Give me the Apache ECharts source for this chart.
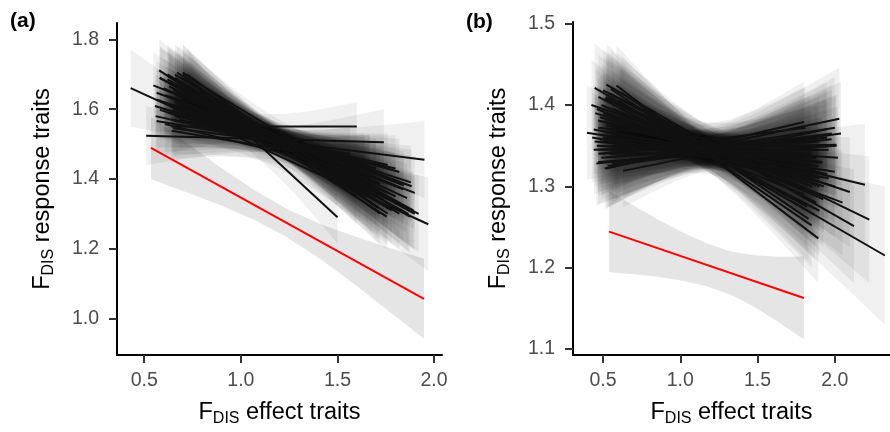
<!DOCTYPE html>
<html>
<head>
<meta charset="utf-8">
<script src="https://cdn.jsdelivr.net/npm/echarts@6/dist/echarts.min.js"></script>
<style>
  html, body { margin: 0; padding: 0; background: #fff; }
  #chart { width: 890px; height: 432px; }
</style>
</head>
<body>
<div id="chart"></div>
<script>
// each row: x start, y start, x end, y end, band half-width at start, at centre, at end
var linesA = [
  [0.43, 1.660, 1.97, 1.270, 0.110, 0.035, 0.135],
  [0.51, 1.524, 1.74, 1.505, 0.085, 0.035, 0.095],
  [0.64, 1.550, 1.60, 1.550, 0.075, 0.035, 0.070],
  [0.65, 1.545, 1.95, 1.455, 0.080, 0.035, 0.110],
  [0.70, 1.700, 1.50, 1.290, 0.085, 0.040, 0.075],
  [0.577, 1.711, 1.755, 1.292, 0.090, 0.035, 0.095],
  [0.70, 1.705, 1.711, 1.316, 0.080, 0.035, 0.090],
  [0.659, 1.699, 1.875, 1.292, 0.085, 0.035, 0.105],
  [0.581, 1.689, 1.867, 1.300, 0.090, 0.035, 0.105],
  [0.625, 1.694, 1.893, 1.310, 0.085, 0.035, 0.110],
  [0.547, 1.668, 1.844, 1.381, 0.095, 0.035, 0.100],
  [0.564, 1.647, 1.884, 1.379, 0.090, 0.035, 0.105],
  [0.564, 1.628, 1.720, 1.387, 0.090, 0.035, 0.090],
  [0.555, 1.609, 1.700, 1.420, 0.090, 0.035, 0.085],
  [0.581, 1.598, 1.651, 1.410, 0.085, 0.035, 0.080],
  [0.559, 1.580, 1.668, 1.441, 0.090, 0.035, 0.085],
  [0.564, 1.566, 1.565, 1.472, 0.090, 0.035, 0.075],
  [0.607, 1.557, 1.616, 1.420, 0.085, 0.035, 0.080],
  [0.642, 1.538, 1.668, 1.443, 0.080, 0.035, 0.085],
  [0.62, 1.700, 1.78, 1.310, 0.085, 0.035, 0.095],
  [0.66, 1.690, 1.82, 1.300, 0.080, 0.035, 0.100],
  [0.68, 1.680, 1.74, 1.340, 0.080, 0.035, 0.090],
  [0.63, 1.675, 1.80, 1.350, 0.085, 0.035, 0.095],
  [0.60, 1.660, 1.76, 1.360, 0.085, 0.035, 0.090],
  [0.65, 1.655, 1.86, 1.345, 0.080, 0.035, 0.100],
  [0.67, 1.650, 1.70, 1.370, 0.080, 0.035, 0.085],
  [0.61, 1.640, 1.84, 1.370, 0.085, 0.035, 0.100],
  [0.64, 1.635, 1.78, 1.385, 0.080, 0.035, 0.095],
  [0.66, 1.625, 1.72, 1.400, 0.080, 0.035, 0.090],
  [0.60, 1.620, 1.88, 1.390, 0.085, 0.035, 0.105],
  [0.63, 1.610, 1.74, 1.415, 0.085, 0.035, 0.090],
  [0.65, 1.600, 1.82, 1.420, 0.080, 0.035, 0.095],
  [0.62, 1.590, 1.70, 1.430, 0.085, 0.035, 0.085],
  [0.66, 1.580, 1.76, 1.440, 0.080, 0.035, 0.090],
  [0.68, 1.570, 1.64, 1.450, 0.080, 0.035, 0.080],
  [0.70, 1.690, 1.68, 1.330, 0.075, 0.035, 0.085],
  [0.72, 1.700, 1.72, 1.300, 0.075, 0.035, 0.090],
  [0.69, 1.670, 1.62, 1.360, 0.078, 0.035, 0.080],
  [0.71, 1.660, 1.66, 1.350, 0.075, 0.035, 0.085],
  [0.74, 1.680, 1.60, 1.350, 0.072, 0.035, 0.080],
  [0.62, 1.685, 1.90, 1.300, 0.085, 0.035, 0.105],
  [0.58, 1.690, 1.92, 1.300, 0.090, 0.035, 0.110],
  [0.66, 1.620, 1.90, 1.360, 0.080, 0.035, 0.105],
  [0.64, 1.570, 1.80, 1.430, 0.080, 0.035, 0.095],
  [0.60, 1.600, 1.64, 1.440, 0.085, 0.035, 0.080],
  [0.67, 1.705, 1.76, 1.300, 0.080, 0.035, 0.090],
  [0.63, 1.665, 1.70, 1.350, 0.085, 0.035, 0.085],
  [0.69, 1.645, 1.80, 1.380, 0.080, 0.035, 0.095],
  [0.61, 1.615, 1.66, 1.420, 0.085, 0.035, 0.080],
  [0.73, 1.690, 1.84, 1.320, 0.075, 0.035, 0.100]
];
var redA = [[0.535, 1.489, 1.948, 1.056, 0.090, 0.040, 0.115]];

var linesB = [
  [0.446, 1.421, 2.324, 1.215, 0.055, 0.022, 0.085],
  [0.522, 1.425, 2.124, 1.251, 0.050, 0.020, 0.070],
  [0.587, 1.424, 1.893, 1.236, 0.050, 0.020, 0.055],
  [0.500, 1.418, 2.223, 1.259, 0.050, 0.020, 0.078],
  [0.425, 1.400, 2.097, 1.293, 0.055, 0.020, 0.068],
  [0.511, 1.408, 1.925, 1.284, 0.050, 0.020, 0.058],
  [0.468, 1.381, 2.195, 1.302, 0.052, 0.020, 0.075],
  [0.396, 1.366, 2.000, 1.318, 0.058, 0.020, 0.062],
  [0.446, 1.355, 1.914, 1.329, 0.055, 0.020, 0.055],
  [0.468, 1.345, 2.011, 1.351, 0.052, 0.020, 0.062],
  [0.457, 1.328, 1.979, 1.358, 0.052, 0.020, 0.060],
  [0.511, 1.322, 2.029, 1.383, 0.050, 0.020, 0.063],
  [0.630, 1.319, 1.947, 1.370, 0.045, 0.020, 0.058],
  [0.522, 1.322, 1.800, 1.379, 0.050, 0.020, 0.050],
  [0.468, 1.330, 2.011, 1.350, 0.052, 0.020, 0.062],
  [0.550, 1.330, 1.950, 1.360, 0.048, 0.020, 0.058],
  [0.550, 1.420, 1.850, 1.252, 0.048, 0.020, 0.052],
  [0.470, 1.410, 1.900, 1.270, 0.052, 0.020, 0.055],
  [0.530, 1.415, 1.880, 1.280, 0.050, 0.020, 0.054],
  [0.490, 1.400, 1.860, 1.290, 0.051, 0.020, 0.053],
  [0.450, 1.390, 1.930, 1.300, 0.054, 0.020, 0.057],
  [0.560, 1.395, 1.850, 1.300, 0.048, 0.020, 0.052],
  [0.480, 1.385, 1.900, 1.310, 0.052, 0.020, 0.055],
  [0.520, 1.375, 1.950, 1.315, 0.050, 0.020, 0.058],
  [0.440, 1.370, 1.870, 1.320, 0.055, 0.020, 0.054],
  [0.500, 1.360, 1.920, 1.330, 0.051, 0.020, 0.056],
  [0.460, 1.350, 1.880, 1.335, 0.053, 0.020, 0.054],
  [0.540, 1.340, 1.960, 1.345, 0.049, 0.020, 0.058],
  [0.490, 1.335, 1.900, 1.355, 0.051, 0.020, 0.055],
  [0.470, 1.340, 1.840, 1.360, 0.052, 0.020, 0.052],
  [0.580, 1.330, 1.980, 1.365, 0.047, 0.020, 0.060],
  [0.520, 1.410, 1.820, 1.275, 0.050, 0.020, 0.051],
  [0.600, 1.405, 1.870, 1.265, 0.046, 0.020, 0.054],
  [0.460, 1.395, 2.050, 1.280, 0.053, 0.020, 0.065],
  [0.510, 1.380, 2.000, 1.300, 0.050, 0.020, 0.062],
  [0.430, 1.360, 1.960, 1.310, 0.055, 0.020, 0.058],
  [0.550, 1.365, 1.890, 1.325, 0.048, 0.020, 0.055],
  [0.480, 1.355, 2.020, 1.335, 0.052, 0.020, 0.063],
  [0.570, 1.350, 1.850, 1.340, 0.048, 0.020, 0.052],
  [0.440, 1.345, 1.940, 1.350, 0.055, 0.020, 0.057],
  [0.530, 1.325, 2.040, 1.365, 0.050, 0.020, 0.064],
  [0.620, 1.415, 1.830, 1.260, 0.046, 0.020, 0.052],
  [0.500, 1.390, 1.800, 1.290, 0.051, 0.020, 0.050],
  [0.490, 1.340, 1.810, 1.372, 0.051, 0.020, 0.050],
  [0.560, 1.328, 2.000, 1.372, 0.048, 0.020, 0.062],
  [0.610, 1.400, 1.900, 1.300, 0.046, 0.020, 0.055],
  [0.470, 1.372, 1.890, 1.345, 0.052, 0.020, 0.055]
];
var redB = [[0.540, 1.2444, 1.800, 1.1627, 0.050, 0.026, 0.051]];

var pivotA = 1.15, pivotB = 1.2;
var ticksXA = [0.5, 1.0, 1.5, 2.0], ticksYA = [1.0, 1.2, 1.4, 1.6, 1.8];
var ticksXB = [0.5, 1.0, 1.5, 2.0], ticksYB = [1.1, 1.2, 1.3, 1.4, 1.5];

var font = "'Liberation Sans', Arial, sans-serif";

// confidence band: straight fit line, half-width growing from the centre
// width towards the width stored at each end (regression CI shape)
function bandItem(pivot, fill) {
  return function (params, api) {
    var x0 = api.value(0), y0 = api.value(1), x1 = api.value(2), y1 = api.value(3);
    var w0 = api.value(4), wm = api.value(5), w1 = api.value(6);
    var xm = Math.min(Math.max(pivot, x0), x1);
    var steps = 8, top = [], bot = [];
    for (var i = 0; i <= steps; i++) {
      var x = x0 + (x1 - x0) * i / steps;
      var y = y0 + (y1 - y0) * (x - x0) / (x1 - x0);
      var end = x < xm ? w0 : w1;
      var span = x < xm ? (xm - x0) : (x1 - xm);
      var t = span > 0 ? Math.abs(x - xm) / span : 0;
      var w = Math.sqrt(wm * wm + (end * end - wm * wm) * t * t);
      top.push(api.coord([x, y + w]));
      bot.unshift(api.coord([x, y - w]));
    }
    return { type: 'polygon', shape: { points: top.concat(bot) }, style: { fill: fill } };
  };
}

function lineItem(color, width) {
  return function (params, api) {
    var a = api.coord([api.value(0), api.value(1)]);
    var b = api.coord([api.value(2), api.value(3)]);
    return { type: 'line', shape: { x1: a[0], y1: a[1], x2: b[0], y2: b[1] }, style: { stroke: color, lineWidth: width } };
  };
}

function series(idx, data, render) {
  return { type: 'custom', xAxisIndex: idx, yAxisIndex: idx, data: data, renderItem: render, encode: { x: [0, 2], y: [1, 3] }, clip: true, silent: true, animation: false };
}

var rich = {
  f: { fontSize: 23.5, fontFamily: font, color: '#000', lineHeight: 28 },
  s: { fontSize: 16, fontFamily: font, color: '#000', verticalAlign: 'bottom', lineHeight: 15 }
};

function xAxis(idx, min, max, ticks) {
  return {
    type: 'value', gridIndex: idx, min: min, max: max,
    name: '{f|F}{s|DIS}{f| effect traits}', nameLocation: 'middle', nameGap: 44,
    nameTextStyle: { rich: rich },
    axisLine: { lineStyle: { color: '#000', width: 2 } },
    axisTick: { length: 8, customValues: ticks, lineStyle: { color: '#333', width: 2 } },
    axisLabel: { customValues: ticks, margin: 16, color: '#4d4d4d', fontSize: 19.5, fontFamily: font, formatter: function (v) { return v.toFixed(1); } },
    splitLine: { show: false }
  };
}

function yAxis(idx, min, max, ticks) {
  return {
    type: 'value', gridIndex: idx, min: min, max: max,
    name: '{f|F}{s|DIS}{f| response traits}', nameLocation: 'middle', nameGap: 60,
    nameTextStyle: { rich: rich },
    axisLine: { onZero: false, lineStyle: { color: '#000', width: 2 } },
    axisTick: { length: 8, customValues: ticks, lineStyle: { color: '#333', width: 2 } },
    axisLabel: { customValues: ticks, margin: 18, color: '#4d4d4d', fontSize: 19.5, fontFamily: font, formatter: function (v) { return v.toFixed(1); } },
    splitLine: { show: false }
  };
}

var chart = echarts.init(document.getElementById('chart'));
chart.setOption({
  backgroundColor: '#fff',
  animation: false,
  grid: [
    { left: 117, top: 23, width: 325, height: 335 },
    { left: 573, top: 22, width: 317, height: 335 }
  ],
  xAxis: [xAxis(0, 0.359, 2.041, ticksXA), xAxis(1, 0.306, 2.357, ticksXB)],
  yAxis: [yAxis(0, 0.895, 1.847, ticksYA), yAxis(1, 1.0927, 1.502, ticksYB)],
  graphic: [
    { type: 'text', left: 10, top: 11, style: { text: '(a)', font: 'bold 21px ' + font, fill: '#000' } },
    { type: 'text', left: 466, top: 12, style: { text: '(b)', font: 'bold 21px ' + font, fill: '#000' } }
  ],
  series: [
    series(0, linesA, bandItem(pivotA, 'rgba(0,0,0,0.06)')),
    series(0, redA, bandItem(1.2, 'rgba(0,0,0,0.1)')),
    series(0, linesA, lineItem('#111', 2)),
    series(0, redA, lineItem('#ff0000', 2)),
    series(1, linesB, bandItem(pivotB, 'rgba(0,0,0,0.06)')),
    series(1, redB, bandItem(1.25, 'rgba(0,0,0,0.1)')),
    series(1, linesB, lineItem('#111', 2)),
    series(1, redB, lineItem('#ff0000', 2))
  ]
});
</script>
</body>
</html>
